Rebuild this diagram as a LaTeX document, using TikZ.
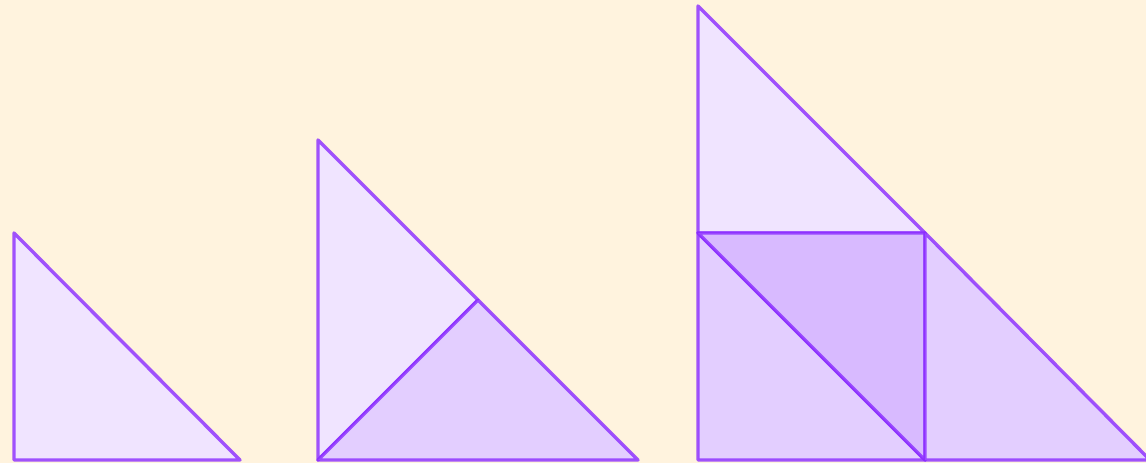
\documentclass[tikz,border=0pt]{standalone}
\usetikzlibrary{calc}
\definecolor{paper}{HTML}{FFF3DE}
\definecolor{edgeviolet}{HTML}{8A2BFF}
\definecolor{lightpiece}{HTML}{F0E4FF}
\definecolor{midpiece}{HTML}{E3CEFF}
\definecolor{darkpiece}{HTML}{D8BAFF}
\tikzset{
  piece/.style={
    draw=edgeviolet,
    draw opacity=0.8,
    line width=3.4pt,
    line join=round
  },
  lightface/.style={piece, fill=lightpiece},
  midface/.style={piece, fill=midpiece},
  darkface/.style={piece, fill=darkpiece}
}

\begin{document}
\begin{tikzpicture}[x=1pt, y=-1pt]
  \fill[paper] (0,0) rectangle (1146,463);
  \useasboundingbox (0,0) rectangle (1146,463);

  % single triangle
  \coordinate (a1) at (14,233);
  \coordinate (a2) at (14,460);
  \coordinate (a3) at (240,460);
  \draw[lightface] (a1) -- (a2) -- (a3) -- cycle;

  % two halves
  \coordinate (b1) at (318,140);
  \coordinate (b2) at (318,460);
  \coordinate (b3) at (638,460);
  \coordinate (bm) at ($(b1)!0.5!(b3)$);
  \draw[lightface] (b1) -- (b2) -- (bm) -- cycle;
  \draw[midface] (b2) -- (b3) -- (bm) -- cycle;

  % four quarters
  \coordinate (c1) at (698,6);
  \coordinate (c2) at (698,233);
  \coordinate (c3) at (925,233);
  \coordinate (c4) at (698,460);
  \coordinate (c5) at (925,460);
  \coordinate (c6) at (1150,460);
  \draw[lightface] (c1) -- (c2) -- (c3) -- cycle;
  \draw[midface] (c2) -- (c4) -- (c5) -- cycle;
  \draw[darkface] (c2) -- (c3) -- (c5) -- cycle;
  \draw[midface] (c3) -- (c5) -- (c6) -- cycle;
\end{tikzpicture}
\end{document}
